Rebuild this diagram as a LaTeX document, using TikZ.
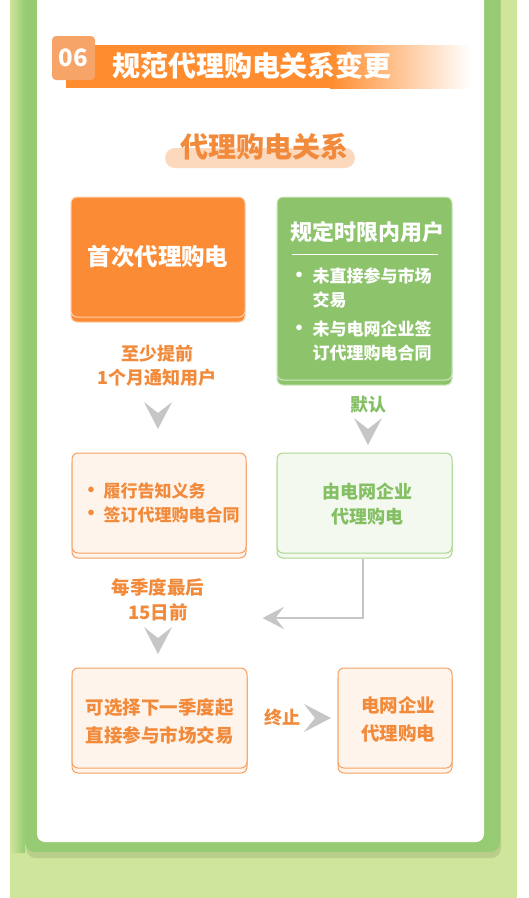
\documentclass[tikz,border=0pt]{standalone}
\usepackage{fontspec}
\setmainfont{Noto Sans CJK SC}
\usetikzlibrary{calc,shadows}

\definecolor{pagegreen}{HTML}{CFE59B}
\definecolor{framegreen}{HTML}{96CB73}
\definecolor{barorange}{HTML}{FF8C2E}
\definecolor{badgeorange}{HTML}{F7A468}
\definecolor{pillorange}{HTML}{FCD9BD}
\definecolor{textorange}{HTML}{F28A3B}
\definecolor{boxorange}{HTML}{FB8B35}
\definecolor{boxgreen}{HTML}{8DC46B}
\definecolor{paleorange}{HTML}{FFF4EB}
\definecolor{edgeorange}{HTML}{F5A060}
\definecolor{palegreen}{HTML}{F3F9EE}
\definecolor{edgegreen}{HTML}{AAD68E}
\definecolor{arrowgray}{HTML}{C6C6C6}
\definecolor{textgreen}{HTML}{84C063}

\begin{document}
\begin{tikzpicture}[x=1pt,y=-1pt,
  every node/.style={font=\bfseries},
  card/.style={rounded corners=6pt,line width=1pt,inner sep=0pt,
    copy shadow={shadow xshift=0pt,shadow yshift=-5pt}},
  fullorange/.style={card,fill=boxorange,draw=white!60!boxorange},
  fullgreen/.style={card,fill=boxgreen,draw=white!60!boxgreen},
  lineorange/.style={card,fill=paleorange,draw=edgeorange},
  linegreen/.style={card,fill=palegreen,draw=edgegreen},
  txt/.style={font=\bfseries\fontsize{17}{24}\selectfont,align=center},
  dot/.style={font=\bfseries\fontsize{20}{20}\selectfont},
  chev/.pic={\fill[arrowgray] (-14,-14) -- (0,-3) -- (14,-14) -- (0,13) -- cycle;}]
\useasboundingbox (0,0) rectangle (529,898);

% page and frame
\fill[white] (0,0) rectangle (529,898);
\fill[pagegreen] (10,0) rectangle (517,898);
\fill[black!10!pagegreen,rounded corners=10pt] (26,-20) rectangle (501,858);
\fill[framegreen,rounded corners=10pt] (25,-20) rectangle (500,852);
\shade[left color=pagegreen,right color=framegreen] (10,0) rectangle (25,852);
\fill[white,rounded corners=8pt] (37,-20) rectangle (484,842);

% header
\fill[barorange] (66,45) rectangle (330,88);
\shade[left color=barorange,right color=white] (330,45) rectangle (470,88);
\fill[badgeorange,rounded corners=4pt] (52,36) rectangle (95,80);
\node[white,font=\bfseries\fontsize{24}{24}\selectfont] (num) at (73.5,58) {06};
\node[white,font=\bfseries\fontsize{28}{28}\selectfont] (title) at (252,66) {规范代理购电关系变更};

\fill[pillorange,rounded corners=10pt] (165,148) rectangle (355,168);
\node[textorange,font=\bfseries\fontsize{28}{28}\selectfont] (sub) at (264,147) {代理购电关系};

% boxes
\node[fullorange,minimum width=174pt,minimum height=120pt] (first) at (158,257) {};
\node[white,font=\bfseries\fontsize{23.5}{24}\selectfont] at (first) {首次代理购电};

\node[fullgreen,minimum width=175pt,minimum height=183pt] (user) at (364.5,288.5) {};
\node[white,font=\bfseries\fontsize{22}{22}\selectfont] (usertitle) at (367,232) {规定时限内用户};
\draw[white,line width=.8pt] (292,254) -- (438,254);
\node[white,dot] at (299,277) {•};
\node[white,txt,align=left,anchor=north west] at (309,264) {未直接参与市场\\交易};
\node[white,dot] at (299,330) {•};
\node[white,txt,align=left,anchor=north west] at (309,317) {未与电网企业签\\订代理购电合同};

\node[lineorange,minimum width=174pt,minimum height=100pt] (notify) at (159,503) {};
\node[textorange,dot] at (91,492) {•};
\node[textorange,dot] at (91,515) {•};
\node[textorange,txt,align=left,anchor=north west] at (100,479) {履行告知义务\\签订代理购电合同};

\node[linegreen,minimum width=175pt,minimum height=100pt] (grid) at (364.5,503) {};
\node[textgreen,txt,font=\bfseries\fontsize{18}{25}\selectfont] at (367,504) {由电网企业\\代理购电};

\node[lineorange,minimum width=175pt,minimum height=100pt] (choose) at (159.5,718) {};
\node[textorange,txt,font=\bfseries\fontsize{18.5}{28}\selectfont] at (159.5,721) {可选择下一季度起\\直接参与市场交易};

\node[lineorange,minimum width=114pt,minimum height=100pt] (stop) at (395,718) {};
\node[textorange,txt,font=\bfseries\fontsize{18.5}{28}\selectfont] at (398,719) {电网企业\\代理购电};

% labels and arrows
\node[textorange,txt,font=\bfseries\fontsize{18}{24}\selectfont] (ahead) at (157,366) {至少提前\\1个月通知用户};
\node[textgreen,txt,font=\bfseries\fontsize{18}{24}\selectfont] (default) at (368,405) {默认};
\node[textorange,txt,font=\bfseries\fontsize{18.5}{25}\selectfont] (quarter) at (158,600) {每季度最后\\15日前};
\node[textorange,txt,font=\bfseries\fontsize{18}{24}\selectfont] (end) at (282,718) {终止};

\pic at (158,416) {chev};
\pic at (368,432) {chev};
\pic at (158,641) {chev};
\pic[rotate=90] at (318,718) {chev};

\coordinate (back) at (273,618);
\draw[arrowgray,line width=1.2pt] ($(grid.south)+(-1.5,5)$) |- (back);
\pic[rotate=-90,scale=.8] at (back) {chev};
\end{tikzpicture}
\end{document}
